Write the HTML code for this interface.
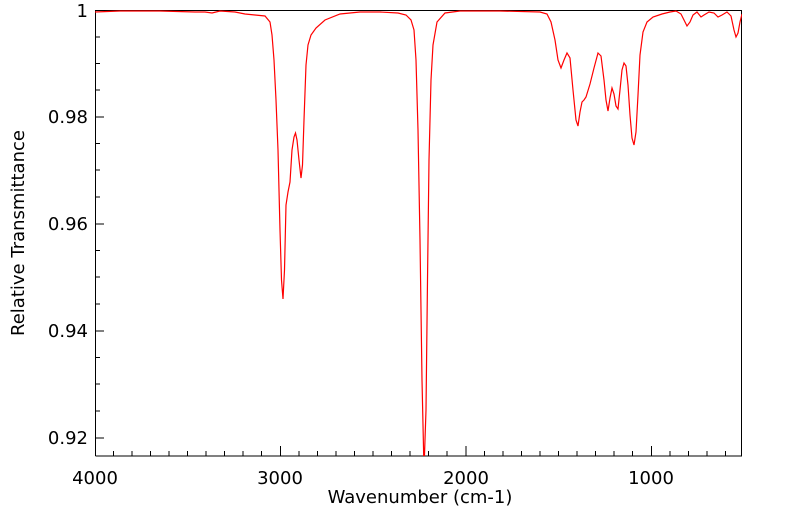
<!DOCTYPE html>
<html><head><style>body{margin:0;background:#fff}svg text{font-family:"DejaVu Sans","Liberation Sans",sans-serif;fill:#000}</style></head>
<body>
<svg width="799" height="516" viewBox="0 0 799 516" xmlns="http://www.w3.org/2000/svg">
<defs><clipPath id="c"><rect x="95" y="10" width="647" height="446"/></clipPath></defs>
<g stroke="#000" stroke-width="1">
<path d="M95.5 456 H742 M95.5 10 V456 M95 10.5 H742 M741.5 10 V456" fill="none" stroke="#000"/>
<path d="M95 10.5h9M95 117h9M95 224h9M95 331h9M95 438h9
M95 37h5M95 63.5h5M95 90h5M95 143.5h5M95 170h5M95 197h5M95 250.5h5M95 277h5M95 304h5M95 357.5h5M95 384h5M95 411h5
M280.5 456v-10M466 456v-10M651.5 456v-10
M113.5 456v-5M132 456v-5M150.5 456v-5M169 456v-5M187.5 456v-5M206 456v-5M224.5 456v-5M243 456v-5M261.5 456v-5
M299 456v-5M317.5 456v-5M336 456v-5M354.5 456v-5M373 456v-5M391.5 456v-5M410 456v-5M428.5 456v-5M447 456v-5
M484.5 456v-5M503 456v-5M521.5 456v-5M540 456v-5M558.5 456v-5M577 456v-5M595.5 456v-5M614 456v-5M632.5 456v-5
M670 456v-5M688.5 456v-5M707 456v-5M725.5 456v-5"/>
</g>
<g font-size="18" text-anchor="end">
<text x="88" y="17">1</text>
<text x="88" y="123">0.98</text>
<text x="88" y="230">0.96</text>
<text x="88" y="337">0.94</text>
<text x="88" y="444">0.92</text>
</g>
<g font-size="18" text-anchor="middle">
<text x="95" y="484">4000</text>
<text x="280" y="484">3000</text>
<text x="466" y="484">2000</text>
<text x="651" y="484">1000</text>
<text x="420" y="503">Wavenumber (cm-1)</text>
<text transform="translate(24,233) rotate(-90)">Relative Transmittance</text>
</g>
<path clip-path="url(#c)" fill="none" stroke="#f00" stroke-width="1.2" d="M95 12 L120 11 L160 11 L195 12 L205 12 L212 13 L220 11 L235 12 L245 14 L255 15 L265 16 L270 22 L272 35 L274 60 L276 100 L278 150 L280 230 L281.5 280 L283 299 L284.5 270 L286 205 L288 192 L290 182 L292 150 L294 137 L295.5 133 L297 140 L299 160 L301 178 L302.5 165 L304 120 L306 65 L308 45 L311 35 L316 28 L325 20 L340 14 L360 12 L380 12 L398 13 L406 15 L411 20 L414 30 L416 60 L418 130 L420 240 L422 380 L424 470 L426 410 L427.5 280 L429 160 L431 80 L433 45 L437 22 L445 13 L460 11 L500 11 L540 12 L547 14 L551 22 L555 40 L558 60 L561 68 L564 60 L567 53 L570 58 L573 90 L576 120 L578 126 L580 112 L582 102 L584 100 L586 97 L590 84 L594 68 L598 53 L601 56 L604 80 L606 100 L608 111 L610 98 L612 88 L614 94 L616 106 L618 109 L620 90 L622 70 L624 63 L626 66 L628 85 L630 115 L632 138 L634 145 L636 132 L638 95 L640 55 L643 32 L647 22 L653 17 L662 14 L670 12 L676 11 L681 14 L684 20 L687 26 L690 22 L693 15 L697 12 L701 17 L704 15 L709 12 L714 13 L718 17 L722 15 L727 12 L731 16 L734 30 L736 37 L738 33 L740 22 L742 14"/>
</svg>
</body></html>
